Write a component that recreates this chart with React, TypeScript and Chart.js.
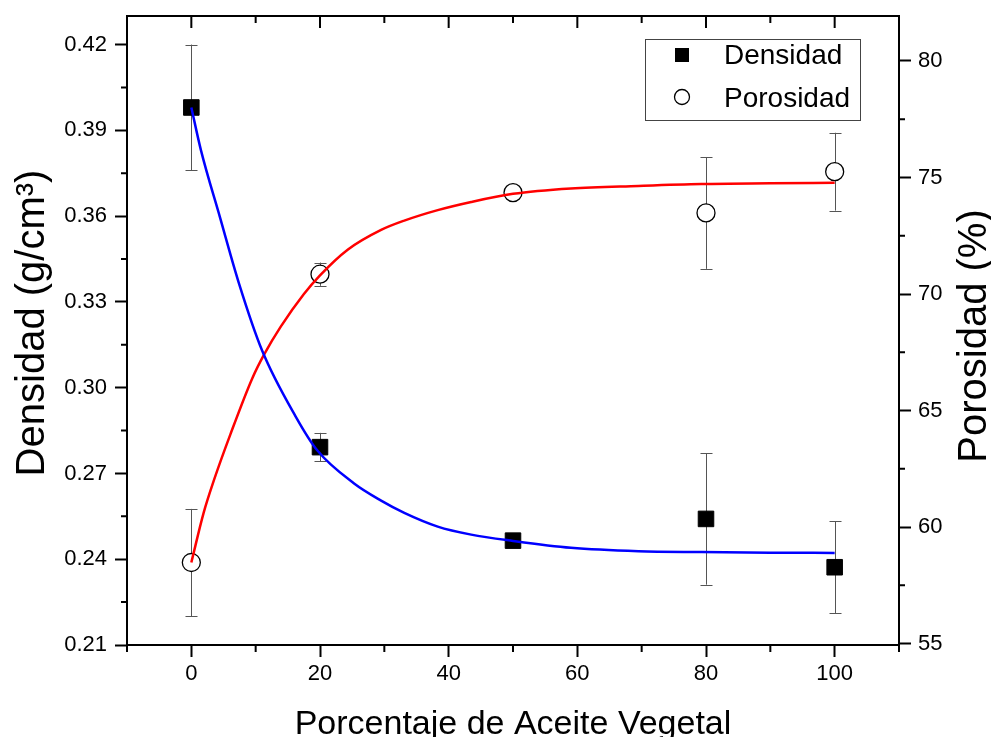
import React, { useEffect, useRef } from 'react';
import { Chart, registerables } from 'chart.js';

Chart.register(...registerables);

// Measured points
const xValues = [0, 20, 50, 80, 100];
const densidad = [0.398, 0.2792, 0.2465, 0.2541, 0.2372];
const densidadErr = [0.022, 0.005, 0.0012, 0.023, 0.016];
const porosidad = [58.48, 70.85, 74.35, 73.48, 75.25];
const porosidadErr = [2.3, 0.5, 0.25, 2.4, 1.67];

// Fitted curves
const densFitX = [0, 1.5, 4.4, 7.4, 11, 16.2, 19.6, 25.3, 29.5, 33.1, 38.3, 43.5, 50, 59, 69.5, 79.3, 90, 100];
const densFitY = [0.398, 0.383, 0.36, 0.3365, 0.313, 0.29, 0.278, 0.2665, 0.2605, 0.2562, 0.2514, 0.2486, 0.2464, 0.244, 0.2428, 0.2425, 0.2423, 0.2422];
const poroFitX = [0, 1.9, 3.5, 6.1, 9.5, 11.3, 13.9, 17.5, 20, 24.3, 29.5, 33.1, 38.3, 43.5, 50, 59, 69.5, 79.3, 90, 100];
const poroFitY = [58.48, 60.6, 62.0, 64.0, 66.4, 67.4, 68.6, 70.0, 70.8, 71.9, 72.75, 73.15, 73.6, 73.95, 74.3, 74.53, 74.64, 74.72, 74.75, 74.77];

// Axes ticks
const xTickValues = [0, 20, 40, 60, 80, 100];
const xMinorValues = [-10, 10, 30, 50, 70, 90, 110];
const leftTickValues = [0.21, 0.24, 0.27, 0.3, 0.33, 0.36, 0.39, 0.42];
const leftMinorValues = [0.225, 0.255, 0.285, 0.315, 0.345, 0.375, 0.405];
const rightTickValues = [55, 60, 65, 70, 75, 80];
const rightMinorValues = [57.5, 62.5, 67.5, 72.5, 77.5];

const xTitle = 'Porcentaje de Aceite Vegetal';
const leftTitle = 'Densidad (g/cm³)';
const rightTitle = 'Porosidad (%)';
const legendLabels = ['Densidad', 'Porosidad'];

const FONT = '"Liberation Sans", Arial, sans-serif';
const PLOT_TOP = 16;

const errorBarsPlugin = {
  id: 'errorBars',
  beforeDatasetsDraw(chart: any) {
    const { ctx, scales } = chart;
    ctx.save();
    ctx.strokeStyle = '#555';
    ctx.lineWidth = 1;
    const draw = (vals: number[], errs: number[], scale: any) => {
      vals.forEach((v, i) => {
        const px = Math.round(scales.x.getPixelForValue(xValues[i])) + 0.5;
        const t = scale.getPixelForValue(v + errs[i]);
        const b = scale.getPixelForValue(v - errs[i]);
        ctx.beginPath();
        ctx.moveTo(px, t);
        ctx.lineTo(px, b);
        ctx.moveTo(px - 6, Math.round(t) + 0.5);
        ctx.lineTo(px + 6, Math.round(t) + 0.5);
        ctx.moveTo(px - 6, Math.round(b) + 0.5);
        ctx.lineTo(px + 6, Math.round(b) + 0.5);
        ctx.stroke();
      });
    };
    draw(densidad, densidadErr, scales.y);
    draw(porosidad, porosidadErr, scales.y2);
    ctx.restore();
  },
};

const decorPlugin = {
  id: 'decor',
  afterDraw(chart: any) {
    const { ctx, scales, chartArea } = chart;
    const { left, right, top, bottom } = chartArea;
    ctx.save();
    ctx.strokeStyle = '#000';
    ctx.lineWidth = 2;
    // top border
    ctx.beginPath();
    ctx.moveTo(left - 1, top);
    ctx.lineTo(right + 1, top);
    ctx.stroke();
    // top ticks (inward)
    ctx.beginPath();
    xTickValues.forEach((v) => {
      const p = scales.x.getPixelForValue(v);
      ctx.moveTo(p, top);
      ctx.lineTo(p, top + 12);
    });
    xMinorValues.forEach((v) => {
      const p = scales.x.getPixelForValue(v);
      ctx.moveTo(p, top);
      ctx.lineTo(p, top + 7);
    });
    // bottom minor ticks
    xMinorValues.forEach((v) => {
      const p = scales.x.getPixelForValue(v);
      ctx.moveTo(p, bottom);
      ctx.lineTo(p, bottom + 7);
    });
    // left minor ticks
    leftMinorValues.forEach((v) => {
      const p = scales.y.getPixelForValue(v);
      ctx.moveTo(left, p);
      ctx.lineTo(left - 6, p);
    });
    // right minor ticks
    rightMinorValues.forEach((v) => {
      const p = scales.y2.getPixelForValue(v);
      ctx.moveTo(right, p);
      ctx.lineTo(right + 6, p);
    });
    ctx.stroke();

    // titles
    ctx.fillStyle = '#000';
    ctx.textAlign = 'center';
    ctx.textBaseline = 'alphabetic';
    ctx.font = `34px ${FONT}`;
    ctx.fillText(xTitle, (left + right) / 2, 734);
    ctx.font = `40px ${FONT}`;
    ctx.save();
    ctx.translate(44, 323);
    ctx.rotate(-Math.PI / 2);
    ctx.fillText(leftTitle, 0, 0);
    ctx.restore();
    ctx.save();
    ctx.translate(986, 336);
    ctx.rotate(-Math.PI / 2);
    ctx.fillText(rightTitle, 0, 0);
    ctx.restore();

    // legend
    ctx.strokeStyle = '#444';
    ctx.lineWidth = 1;
    ctx.strokeRect(645.5, 39.5, 215, 81);
    ctx.fillStyle = '#000';
    ctx.fillRect(675, 48, 14, 14);
    ctx.beginPath();
    ctx.arc(682, 97, 7.5, 0, Math.PI * 2);
    ctx.fillStyle = '#fff';
    ctx.fill();
    ctx.strokeStyle = '#000';
    ctx.lineWidth = 1.3;
    ctx.stroke();
    ctx.fillStyle = '#000';
    ctx.font = `28px ${FONT}`;
    ctx.textAlign = 'left';
    ctx.fillText(legendLabels[0], 724, 64);
    ctx.fillText(legendLabels[1], 724, 107);
    ctx.restore();
  },
};

const zeroPad = (s: any) => {
  s.paddingTop = 0;
  s.paddingBottom = 0;
};

export default function App() {
  const ref = useRef<HTMLCanvasElement>(null);
  useEffect(() => {
    if (!ref.current) return;
    const tickFont = { family: FONT, size: 22 };
    const axisCommon = {
      grid: { drawOnChartArea: false, drawTicks: true, tickLength: 12, tickWidth: 2, tickColor: '#000' },
      border: { display: true, color: '#000', width: 2 },
    };
    const chart = new Chart(ref.current, {
      type: 'scatter',
      data: {
        datasets: [
          {
            label: 'fitD',
            data: densFitX.map((x, i) => ({ x, y: densFitY[i] })),
            showLine: true,
            borderColor: '#0000FF',
            borderWidth: 2.5,
            pointRadius: 0,
            cubicInterpolationMode: 'monotone',
            yAxisID: 'y',
          },
          {
            label: 'fitP',
            data: poroFitX.map((x, i) => ({ x, y: poroFitY[i] })),
            showLine: true,
            borderColor: '#FF0000',
            borderWidth: 2.5,
            pointRadius: 0,
            cubicInterpolationMode: 'monotone',
            yAxisID: 'y2',
          },
          {
            label: legendLabels[0],
            data: xValues.map((x, i) => ({ x, y: densidad[i] })),
            pointStyle: 'rect',
            pointRadius: 11,
            backgroundColor: '#000',
            borderColor: '#000',
            borderWidth: 1,
            yAxisID: 'y',
          },
          {
            label: legendLabels[1],
            data: xValues.map((x, i) => ({ x, y: porosidad[i] })),
            pointStyle: 'circle',
            pointRadius: 9,
            backgroundColor: '#fff',
            borderColor: '#000',
            borderWidth: 1.3,
            yAxisID: 'y2',
          },
        ],
      } as any,
      options: {
        animation: false,
        responsive: false,
        layout: { autoPadding: false, padding: { top: PLOT_TOP, left: 0, right: 0, bottom: 0 } },
        plugins: { legend: { display: false }, tooltip: { enabled: false } },
        scales: {
          x: {
            type: 'linear',
            position: 'bottom',
            min: -10,
            max: 110,
            afterBuildTicks: (s: any) => { s.ticks = xTickValues.map((v) => ({ value: v })); },
            afterFit: (s: any) => { s.height = 92; },
            ticks: { font: tickFont, color: '#000', padding: 4, callback: (v: any) => String(v) },
            ...axisCommon,
          },
          y: {
            type: 'linear',
            position: 'left',
            min: 0.21,
            max: 0.43,
            afterBuildTicks: (s: any) => { s.ticks = leftTickValues.map((v) => ({ value: v })); },
            afterFit: (s: any) => { s.width = 127; zeroPad(s); },
            ticks: { font: tickFont, color: '#000', padding: 8, callback: (v: any) => Number(v).toFixed(2) },
            ...axisCommon,
          },
          y2: {
            type: 'linear',
            position: 'right',
            min: 54.94,
            max: 81.93,
            afterBuildTicks: (s: any) => { s.ticks = rightTickValues.map((v) => ({ value: v })); },
            afterFit: (s: any) => { s.width = 92; zeroPad(s); },
            ticks: { font: tickFont, color: '#000', padding: 7, callback: (v: any) => String(v) },
            ...axisCommon,
          },
        },
      } as any,
      plugins: [errorBarsPlugin, decorPlugin],
    });
    const diff = chart.chartArea.top - PLOT_TOP;
    if (Math.abs(diff) > 0.1) {
      (chart.options as any).layout.padding = { top: PLOT_TOP - diff, left: 0, right: 0, bottom: 0 };
      chart.update();
    }
    return () => chart.destroy();
  }, []);
  return (
    <div style={{ position: 'fixed', left: 0, top: 0, width: 991, height: 737, overflow: 'hidden', background: '#fff' }}>
      <canvas ref={ref} width={991} height={737} style={{ display: 'block' }} />
    </div>
  );
}
